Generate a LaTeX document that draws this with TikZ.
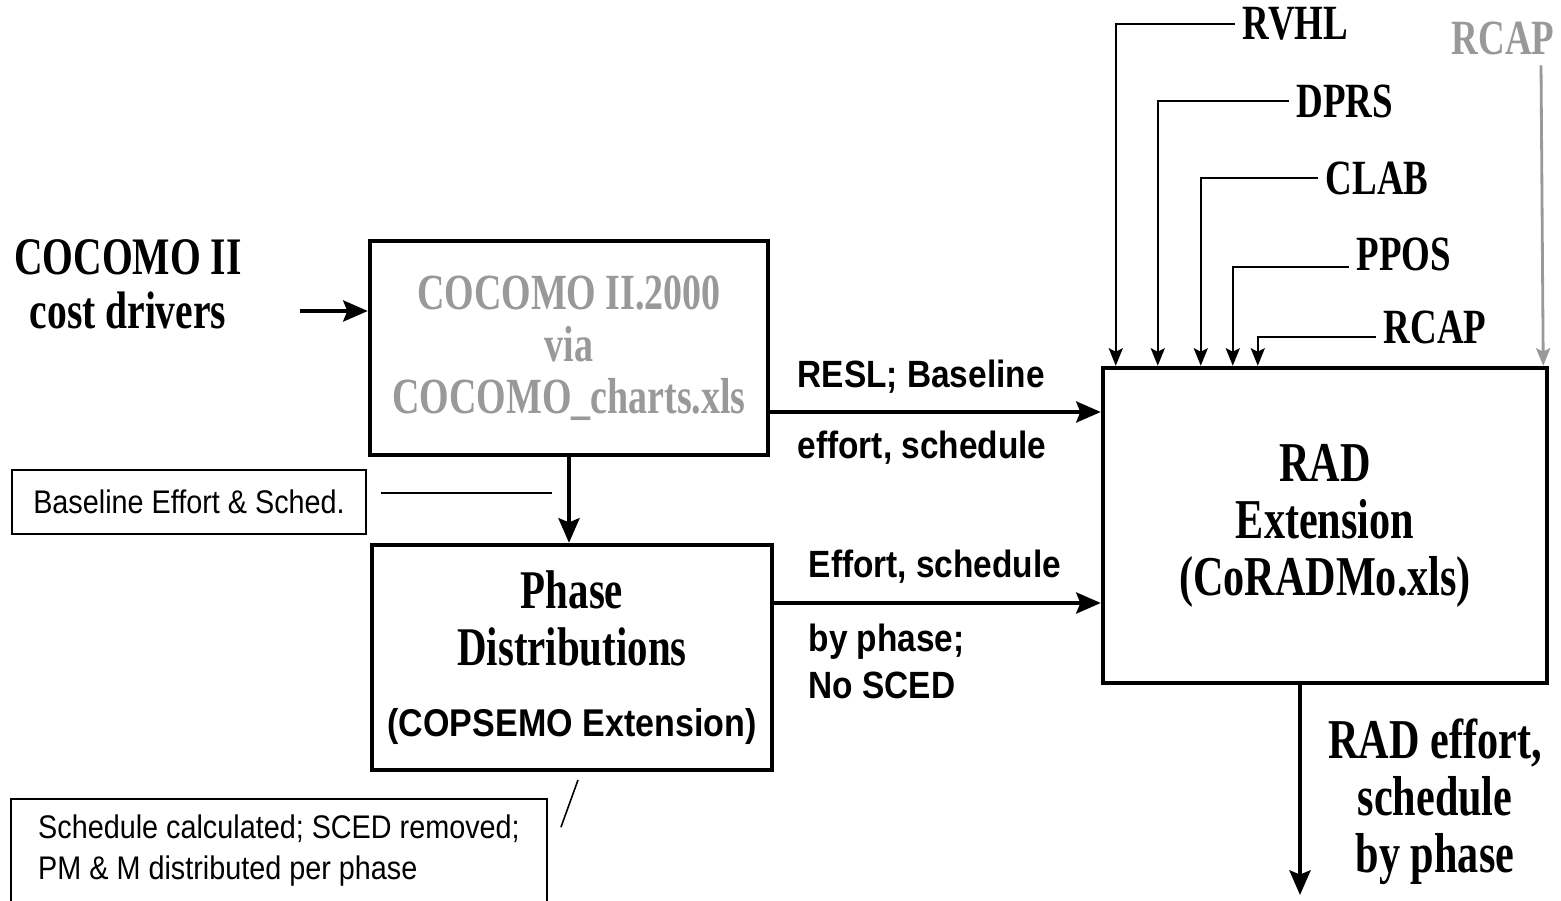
\documentclass[tikz,border=0pt]{standalone}
\usepackage{fontspec}
\usetikzlibrary{arrows.meta,calc}
\newfontfamily\rmc{Liberation Serif}[FakeStretch=0.75]
\newfontfamily\sfc{Liberation Sans}[FakeStretch=0.88]
\definecolor{lgray}{gray}{0.6}
\begin{document}
\begin{tikzpicture}[x=0.01cm,y=-0.01cm,
  blk/.style={draw, line width=1.2pt, inner sep=0pt, align=center},
  note/.style={line width=0.45pt, font=\sfc\fontsize{9.3}{11.4}\selectfont},
  lbl/.style={inner sep=0pt, anchor=west, font=\sfc\bfseries\fontsize{10.8}{13.4}\selectfont},
  drv/.style={inner sep=2pt, anchor=west, font=\rmc\bfseries\fontsize{14}{15}\selectfont},
  arr/.style={line width=1.1pt, -{Stealth[length=7pt,width=6pt,inset=1.2pt]}},
  inarr/.style={line width=0.6pt, -{Stealth[length=5pt,width=4pt,inset=1pt]}}]
\useasboundingbox (0,0) rectangle (1561,901);
\node[align=center, font=\rmc\bfseries\fontsize{15}{15.4}\selectfont] (drivers) at (128,284) {COCOMO II\\cost drivers};
\node[blk, minimum width=3.98cm, minimum height=2.14cm, text=lgray, font=\rmc\bfseries\fontsize{14.4}{14.8}\selectfont] (cocomo) at (569,348) {COCOMO II.2000\\via\\COCOMO\_charts.xls};
\node[blk, minimum width=4cm, minimum height=2.25cm, font=\rmc\bfseries\fontsize{15.5}{16.2}\selectfont] (phase) at (572,657.5) {Phase\\Distributions\\[4pt]{\sfc\fontsize{11}{13}\selectfont (COPSEMO Extension)}};
\node[blk, minimum width=4.44cm, minimum height=3.15cm, font=\rmc\bfseries\fontsize{16}{16.2}\selectfont] (rad) at (1325,525.5) {RAD\\Extension\\(CoRADMo.xls)};
\node[note, draw, minimum width=3.54cm, minimum height=0.64cm] (basenote) at (189,502) {Baseline Effort \& Sched.};
\node[note, minimum width=5.34cm, minimum height=1.01cm, align=left] (schednote) at (279,850.5) {Schedule calculated; SCED removed;\\PM \& M distributed per phase};
\draw[note] (schednote.south west) |- (schednote.north east) -- (schednote.south east);
\node[lbl] (resl) at (797,377) {RESL; Baseline};
\node[lbl] (effsched) at (797,448) {effort, schedule};
\node[lbl] (effort) at (808,567) {Effort, schedule};
\node[lbl, align=left] (byphase) at (808,661.5) {by phase;\\No SCED};
\node[align=center, font=\rmc\bfseries\fontsize{16}{16.2}\selectfont] (radlbl) at (1435,802) {RAD effort,\\schedule\\by phase};
\node[drv] (rvhl) at (1235,24) {RVHL};
\node[drv] (dprs) at (1289,101) {DPRS};
\node[drv] (clab) at (1318,178) {CLAB};
\node[drv] (ppos) at (1349,254) {PPOS};
\node[drv] (rcap) at (1376,327) {RCAP};
\node[drv, anchor=center, text=lgray] (rcapg) at (1503,38) {RCAP};
\draw[inarr] (rvhl.west) -| ($(rad.north west)+(15,0)$);
\draw[inarr] (dprs.west) -| ($(rad.north west)+(57,0)$);
\draw[inarr] (clab.west) -| ($(rad.north west)+(100,0)$);
\draw[inarr] ($(ppos.west)+(0,13)$) -| ($(rad.north west)+(132,0)$);
\draw[inarr] ($(rcap.west)+(0,10)$) -| ($(rad.north west)+(157,0)$);
\draw[inarr, line width=0.8pt, lgray] ($(rcapg.south)+(38,3)$) -- ($(rad.north east)+(-6,0)$);
\coordinate (drvout) at (300,311);
\draw[arr] (drvout) -- (drvout -| cocomo.west);
\draw[arr] (cocomo.south) -- (cocomo.south |- phase.north);
\draw[arr] ($(cocomo.east)+(0,64)$) coordinate (c1) -- (c1 -| rad.west);
\draw[arr] ($(phase.east)+(0,-54.5)$) coordinate (c2) -- (c2 -| rad.west);
\coordinate (radend) at (1300,895);
\draw[arr] (radend |- rad.south) -- (radend);
\coordinate (basetip) at (552,493);
\draw[note] ($(basenote.east)+(14,-9)$) -- (basetip);
\coordinate (schedtip) at (578,780);
\draw[note] (schedtip) -- ($(schednote.north east)+(14,28)$);
\end{tikzpicture}
\end{document}
